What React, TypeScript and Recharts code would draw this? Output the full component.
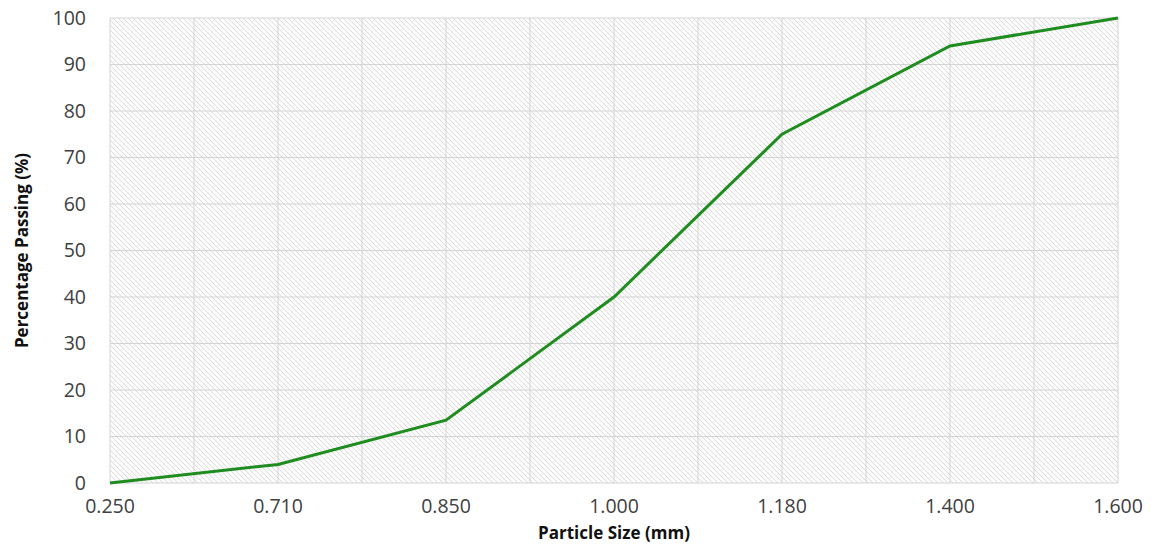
import { LineChart, Line, XAxis, YAxis, CartesianGrid } from 'recharts'

// sieve sizes (mm) shown as equally spaced categories
const particleSizes = ['0.250', '0.710', '0.850', '1.000', '1.180', '1.400', '1.600']
const percentPassing = [0, 4, 13.5, 40, 75, 94, 100]
const yTicks = [0, 10, 20, 30, 40, 50, 60, 70, 80, 90, 100]
// gridlines fall on every category and halfway between them
const xTicks = [0, 0.5, 1, 1.5, 2, 2.5, 3, 3.5, 4, 4.5, 5, 5.5, 6]

const data = particleSizes.map((size, i) => ({
  idx: i,
  size,
  passing: percentPassing[i],
}))

const FONT = '"Open Sans", "DejaVu Sans", sans-serif'
const TICK = { fontSize: 19.5, fill: '#404040', fontFamily: FONT }

export default function App() {
  return (
    <div style={{ position: 'absolute', left: 0, top: 0, width: 1157, height: 544, background: '#fff' }}>
      <LineChart
        width={1157}
        height={544}
        data={data}
        margin={{ top: 18, right: 39, bottom: 0, left: 0 }}
      >
        <defs>
          <pattern id="hatch" width="5" height="5" patternUnits="userSpaceOnUse">
            <rect width="5" height="5" fill="#fcfcfc" />
            <path d="M-1,-1 L6,6 M-1,4 L1,6 M4,-1 L6,1" stroke="#dcdcdc" strokeWidth="1" />
          </pattern>
        </defs>
        <CartesianGrid stroke="#d4d4d4" fill="url(#hatch)" fillOpacity={1} />
        <XAxis
          dataKey="idx"
          type="number"
          domain={[0, 6]}
          ticks={xTicks}
          interval={0}
          tickFormatter={(v: number) => (Number.isInteger(v) ? particleSizes[v] : '')}
          tick={TICK}
          tickLine={false}
          axisLine={false}
          tickSize={0}
          tickMargin={16}
          height={61}
          label={{
            value: 'Particle Size (mm)',
            position: 'insideBottom',
            offset: 5,
            style: { fontSize: 17, fontWeight: 700, fill: '#111', fontFamily: FONT },
          }}
        />
        <YAxis
          domain={[0, 100]}
          ticks={yTicks}
          interval={0}
          tick={TICK}
          tickLine={false}
          axisLine={false}
          tickSize={0}
          tickMargin={24}
          width={110}
          label={{
            value: 'Percentage Passing (%)',
            angle: -90,
            position: 'insideLeft',
            offset: 22,
            style: { fontSize: 17, fontWeight: 700, fill: '#111', fontFamily: FONT, textAnchor: 'middle' },
          }}
        />
        <Line
          type="linear"
          dataKey="passing"
          stroke="#1f8c1f"
          strokeWidth={3}
          dot={false}
          isAnimationActive={false}
        />
      </LineChart>
    </div>
  )
}
